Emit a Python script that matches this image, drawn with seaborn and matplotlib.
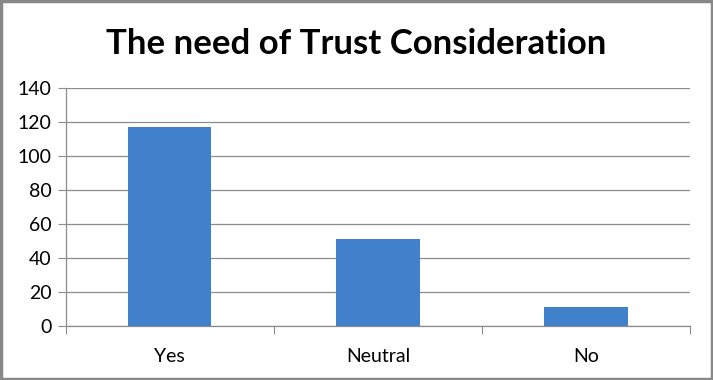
import matplotlib
matplotlib.use("Agg")
import matplotlib.pyplot as plt
import seaborn as sns
import pandas as pd
from matplotlib.patches import Rectangle

categories = ["Yes", "Neutral", "No"]
counts = [117, 51, 11]
y_ticks = [0, 20, 40, 60, 80, 100, 120, 140]

sns.set_style("white")
plt.rcParams['font.family'] = ['Lato', 'DejaVu Sans']
plt.rcParams['text.color'] = 'black'
plt.rcParams['xtick.labelcolor'] = 'black'
plt.rcParams['ytick.labelcolor'] = 'black'

data = pd.DataFrame({"answer": categories, "count": counts})

fig = plt.figure(figsize=(7.13, 3.80), dpi=100)
ax = fig.add_axes([0.092, 0.142, 0.876, 0.626])

sns.barplot(data=data, x="answer", y="count", color="#4181CB", width=0.4,
            saturation=1, linewidth=0, ax=ax, zorder=3)

ax.set_xlim(-0.5, len(categories) - 0.5)
ax.set_ylim(0, 140)
ax.set_yticks(y_ticks)
ax.yaxis.grid(True, color="#8C8C8C", linewidth=0.9, zorder=0)

# category boundary ticks, labels centred between them
ax.set_xticks([i - 0.5 for i in range(len(categories) + 1)])
ax.set_xticklabels([])
ax.set_xticks(range(len(categories)), minor=True)
ax.set_xticklabels(categories, minor=True)
ax.tick_params(axis="x", which="major", length=6, color="#8C8C8C", direction="out", bottom=True)
ax.tick_params(axis="x", which="minor", length=0, pad=16, labelsize=14, labelcolor="black")
ax.tick_params(axis="y", length=6, color="#8C8C8C", direction="out", left=True,
               labelsize=14, pad=4, labelcolor="black")

ax.set_xlabel("")
ax.set_ylabel("")
for side in ["top", "right"]:
    ax.spines[side].set_visible(False)
for side in ["left", "bottom"]:
    ax.spines[side].set_color("#8C8C8C")
    ax.spines[side].set_linewidth(0.9)

fig.text(0.5, 0.885, "The need of Trust Consideration", ha="center", va="center",
         fontsize=25, fontweight="bold", color="black")

# outer frame
fig.patches.append(Rectangle((0.002, 0.003), 0.996, 0.994, transform=fig.transFigure,
                             fill=False, edgecolor="#888888", linewidth=2.5))

fig.savefig("out.png", dpi=100)
